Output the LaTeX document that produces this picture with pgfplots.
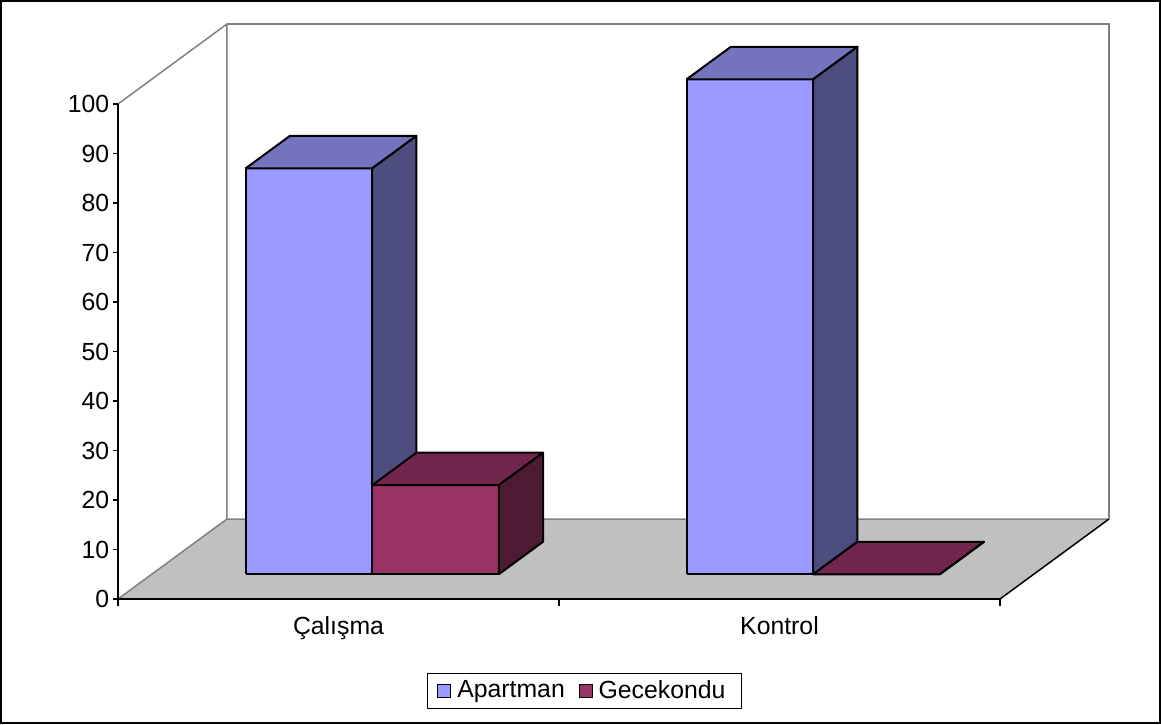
\documentclass[border=0pt]{standalone}
\usepackage{pgfplots}
\pgfplotsset{compat=1.18}
\usepackage{fontspec}
\setmainfont{Liberation Sans}

% face shades: front, top, side
\definecolor{apfront}{HTML}{9999FF}
\definecolor{aptop}{HTML}{7373BF}
\definecolor{apside}{HTML}{4D4D80}
\definecolor{gkfront}{HTML}{993366}
\definecolor{gktop}{HTML}{73264D}
\definecolor{gkside}{HTML}{4D1A33}
\definecolor{floorgray}{HTML}{C0C0C0}
\definecolor{wallline}{HTML}{808080}

\newcommand\chartfont{\fontsize{12.4}{14}\selectfont}

\begin{document}
\chartfont
\begin{tikzpicture}[every node/.append style={font=\chartfont}]
\begin{axis}[
  x={(220.5pt,0pt)}, y={(54.5pt,40pt)}, z={(0pt,2.475pt)},
  xmin=0, xmax=2, ymin=0, ymax=1, zmin=0, zmax=100,
  hide axis, clip=false,
  legend columns=2,
  legend style={at={(0.4707,-0.128)}, anchor=north, draw=black, line width=0.5pt,
    font=\chartfont, inner xsep=5pt, inner ysep=1.5pt,
    nodes={inner xsep=3pt},
    /tikz/every even column/.append style={column sep=4pt}},
  legend image code/.code={\draw[#1,draw=black,line width=0.4pt] (0pt,-3pt) rectangle (6.5pt,3.5pt);},
  bar/.style={draw=black, line width=1pt, line join=round, forget plot},
]
% outer frame
\draw[line width=1pt] (axis cs:-0.2653,0,-25.05) rectangle (axis cs:2.3628,0,120.81);

% floor
\fill[floorgray] (axis cs:0,0,0) -- (axis cs:2,0,0) -- (axis cs:2,1,0) -- (axis cs:0,1,0) -- cycle;
\draw[wallline, line width=0.75pt] (axis cs:0,0,0) -- (axis cs:0,1,0) -- (axis cs:2,1,0);
\draw[black, line width=0.75pt] (axis cs:2,0,0) -- (axis cs:2,1,0);
% walls
\draw[wallline, line width=0.75pt] (axis cs:0,0,100) -- (axis cs:0,1,100) -- (axis cs:0,1,0);
\draw[wallline, line width=0.75pt] (axis cs:0,1,100) -- (axis cs:2,1,100) -- (axis cs:2,1,0);

% value axis with ticks
\draw[black, line width=0.75pt] (axis cs:0,0,100) -- (axis cs:0,0,0) -- (axis cs:2,0,0);
\pgfplotsinvokeforeach{0,10,...,100}{
  \draw[black, line width=0.75pt] (axis cs:0,0,#1) -- ++(-2.5pt,0pt) node[left, inner sep=1.5pt, font=\chartfont] {#1};
}
% category ticks and names
\pgfplotsinvokeforeach{0,1,2}{
  \draw[black, line width=0.75pt] (axis cs:#1,0,0) -- (axis cs:#1,0,-1.5);
}
\node[anchor=base, font=\chartfont] at (axis cs:0.5,0,-7.27) {Çalışma};
\node[anchor=base, font=\chartfont] at (axis cs:1.5,0,-7.27) {Kontrol};

% Çalışma - Apartman (82)
\addplot3[bar, fill=apfront] coordinates {(0.213,0.309,0) (0.5,0.309,0) (0.5,0.309,82) (0.213,0.309,82) (0.213,0.309,0)};
\addplot3[bar, fill=aptop] coordinates {(0.213,0.309,82) (0.5,0.309,82) (0.5,0.715,82) (0.213,0.715,82) (0.213,0.309,82)};
\addplot3[bar, fill=apside] coordinates {(0.5,0.309,0) (0.5,0.715,0) (0.5,0.715,82) (0.5,0.309,82) (0.5,0.309,0)};
% Çalışma - Gecekondu (18)
\addplot3[bar, fill=gkfront] coordinates {(0.5,0.309,0) (0.787,0.309,0) (0.787,0.309,18) (0.5,0.309,18) (0.5,0.309,0)};
\addplot3[bar, fill=gktop] coordinates {(0.5,0.309,18) (0.787,0.309,18) (0.787,0.715,18) (0.5,0.715,18) (0.5,0.309,18)};
\addplot3[bar, fill=gkside] coordinates {(0.787,0.309,0) (0.787,0.715,0) (0.787,0.715,18) (0.787,0.309,18) (0.787,0.309,0)};
% Kontrol - Apartman (100)
\addplot3[bar, fill=apfront] coordinates {(1.213,0.309,0) (1.5,0.309,0) (1.5,0.309,100) (1.213,0.309,100) (1.213,0.309,0)};
\addplot3[bar, fill=aptop] coordinates {(1.213,0.309,100) (1.5,0.309,100) (1.5,0.715,100) (1.213,0.715,100) (1.213,0.309,100)};
\addplot3[bar, fill=apside] coordinates {(1.5,0.309,0) (1.5,0.715,0) (1.5,0.715,100) (1.5,0.309,100) (1.5,0.309,0)};
% Kontrol - Gecekondu (0)
\addplot3[bar, fill=gkfront] coordinates {(1.5,0.309,0) (1.787,0.309,0) (1.787,0.309,0) (1.5,0.309,0) (1.5,0.309,0)};
\addplot3[bar, fill=gktop] coordinates {(1.5,0.309,0) (1.787,0.309,0) (1.787,0.715,0) (1.5,0.715,0) (1.5,0.309,0)};
\addplot3[bar, fill=gkside] coordinates {(1.787,0.309,0) (1.787,0.715,0) (1.787,0.715,0) (1.787,0.309,0) (1.787,0.309,0)};

\addlegendimage{fill=apfront}
\addlegendentry{Apartman}
\addlegendimage{fill=gkfront}
\addlegendentry{Gecekondu}
\end{axis}
\end{tikzpicture}
\end{document}
